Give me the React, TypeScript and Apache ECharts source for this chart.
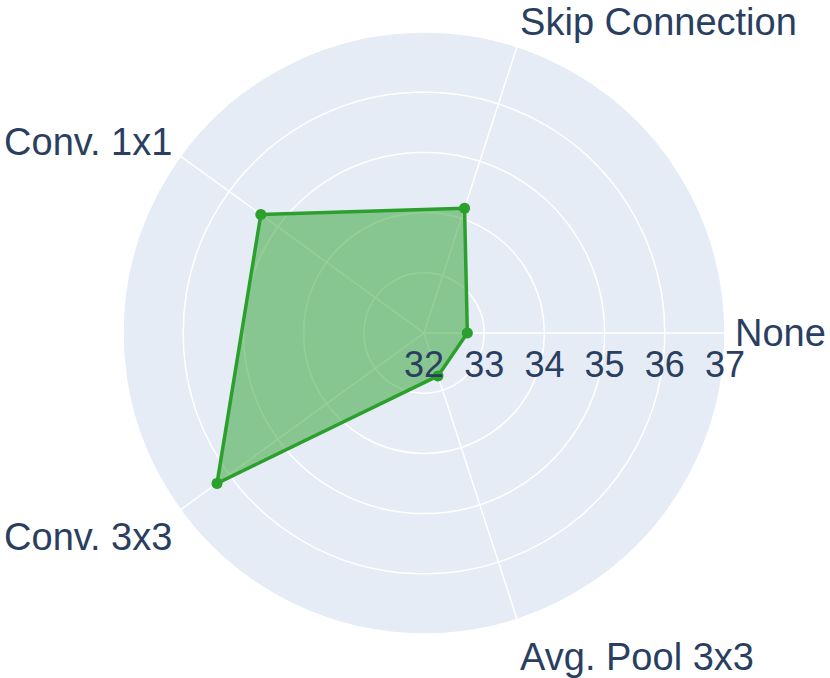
import React, { useEffect, useRef } from "react";
import * as echarts from "echarts";

const categories = ["None", "Skip Connection", "Conv. 1x1", "Conv. 3x3", "Avg. Pool 3x3"];
const values = [32.72, 34.18, 35.35, 36.25, 32.75];
const radialMin = 32;
const radialMax = 37;
const radialStep = 1;

const FONT = "'Liberation Sans', Arial, sans-serif";
const TEXT = "#2a3f5f";

const nameKeys: Record<string, string> = {
  "None": "n0",
  "Skip Connection": "n1",
  "Conv. 1x1": "n2",
  "Conv. 3x3": "n3",
  "Avg. Pool 3x3": "n4",
};

export default function App() {
  const ref = useRef<HTMLDivElement>(null);
  useEffect(() => {
    if (!ref.current) return;
    const chart = echarts.init(ref.current, undefined, { renderer: "svg" });
    const center = [424, 333];
    const radius = 301;
    const base = { fontFamily: FONT, fontSize: 36, color: TEXT };
    const nameBase = { fontFamily: FONT, fontSize: 38, color: TEXT };
    chart.setOption({
      animation: false,
      backgroundColor: "#ffffff",
      radar: {
        center,
        radius,
        startAngle: 0,
        shape: "circle",
        splitNumber: 5,
        indicator: categories.map((c) => ({ name: c, min: radialMin, max: radialMax })),
        nameGap: 10,
        axisName: {
          ...nameBase,
          formatter: (name: string) => `{${nameKeys[name]}|${name}}`,
          rich: {
            n0: { ...nameBase, padding: [0, 0, 0, 0] },
            n1: { ...nameBase, padding: [0, 0, 30, 0] },
            n2: { ...nameBase, padding: [0, 0, 16, 0] },
            n3: { ...nameBase, padding: [42, 0, 0, 0] },
            n4: { ...nameBase, padding: [56, 0, 0, 0] },
          },
        },
        splitArea: { show: true, areaStyle: { color: ["#E5ECF6"] } },
        splitLine: { show: true, lineStyle: { color: "#ffffff", width: 1.5 } },
        axisLine: { show: true, lineStyle: { color: "#ffffff", width: 1.5 } },
        axisTick: { show: false },
        axisLabel: { show: false },
      },
      polar: { center, radius },
      angleAxis: { type: "value", min: 0, max: 360, startAngle: 0, show: false },
      radiusAxis: {
        type: "value",
        min: radialMin,
        max: radialMax,
        interval: radialStep,
        z: 10,
        axisLine: { show: false },
        axisTick: { show: false },
        splitLine: { show: false },
        axisLabel: {
          show: true,
          ...base,
          margin: -31,
          verticalAlign: "middle",
          align: "center",
        },
      },
      series: [
        {
          type: "radar",
          data: [{ value: values }],
          symbol: "circle",
          symbolSize: 11,
          lineStyle: { color: "#2ca02c", width: 3.5 },
          itemStyle: { color: "#2ca02c" },
          areaStyle: { color: "#2ca02c", opacity: 0.5 },
        },
        { type: "scatter", coordinateSystem: "polar", data: [] },
      ],
    });
    return () => chart.dispose();
  }, []);
  return (
    <div
      ref={ref}
      style={{ position: "absolute", left: 0, top: 0, width: 830, height: 678 }}
    />
  );
}
